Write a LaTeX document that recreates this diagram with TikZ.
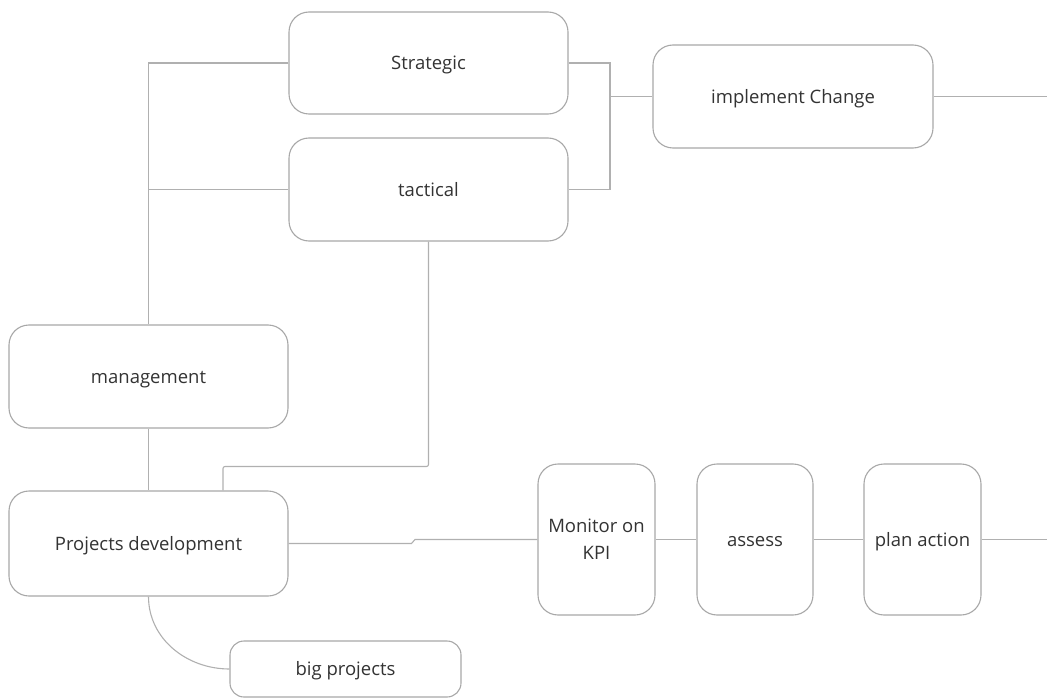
\documentclass[tikz,border=0pt]{standalone}
\usepackage{fontspec}
\setmainfont{Open Sans}
\begin{document}
\begin{tikzpicture}[x=1pt,y=-1pt,
  box/.style={draw=boxgray, line width=1.1pt, rounded corners=20pt, fill=white,
    text=textgray, font=\fontsize{18.5}{27}\selectfont, align=center, inner sep=0pt,
    text height=13.5pt, text depth=0pt},
  link/.style={draw=linegray, line width=1.1pt}]
\definecolor{boxgray}{HTML}{A8A8A8}
\definecolor{linegray}{HTML}{B0B0B0}
\definecolor{textgray}{HTML}{333333}
\useasboundingbox (0,0) rectangle (1047,698);

% boxes
\node[box, minimum width=279pt, minimum height=102pt] (strat) at (428.5,63) {Strategic};
\node[box, minimum width=279pt, minimum height=103pt] (tact) at (428.5,189.5) {tactical};
\node[box, minimum width=280pt, minimum height=103pt] (impl) at (793,96.5) {implement Change};
\node[box, minimum width=279pt, minimum height=103pt] (mgmt) at (148.5,376.5) {management};
\node[box, minimum width=279pt, minimum height=105pt] (proj) at (148.5,543.5) {Projects development};
\node[box, rounded corners=14pt, minimum width=231pt, minimum height=56pt] (big) at (345.5,669) {big projects};
\node[box, text height=40.5pt, minimum width=117pt, minimum height=151pt] (mon) at (596.5,539.5) {Monitor on\\KPI};
\node[box, minimum width=116pt, minimum height=151pt] (asse) at (755,539.5) {assess};
\node[box, minimum width=117pt, minimum height=151pt] (plan) at (922.5,539.5) {plan action};

% helper points
\coordinate (jr) at (610,96.5);
\coordinate (e1) at (1047,96.5);
\coordinate (pk) at (223,466.5);
\coordinate (j1) at (411.5,543.5);
\coordinate (j2) at (415,539.5);
\coordinate (e2) at (1047,539.5);

% connectors
\draw[link] (strat.west) -| (mgmt.north);
\draw[link] (tact.west) -- (tact.west -| mgmt.north);
\draw[link] (strat.east) -| (jr) |- (tact.east);
\draw[link] (jr) -- (impl.west);
\draw[link] (impl.east) -- (e1);
\draw[link, rounded corners=2pt] (tact.south) |- (pk) -- (pk |- proj.north);
\draw[link] (mgmt.south) -- (proj.north);
\draw[link] (proj.east) -- (j1) -- (j2) -- (mon.west);
\draw[link] (mon.east) -- (asse.west);
\draw[link] (asse.east) -- (plan.west);
\draw[link] (plan.east) -- (e2);
\draw[link] (proj.south) to[out=-90,in=180] (big.west);
\end{tikzpicture}
\end{document}
